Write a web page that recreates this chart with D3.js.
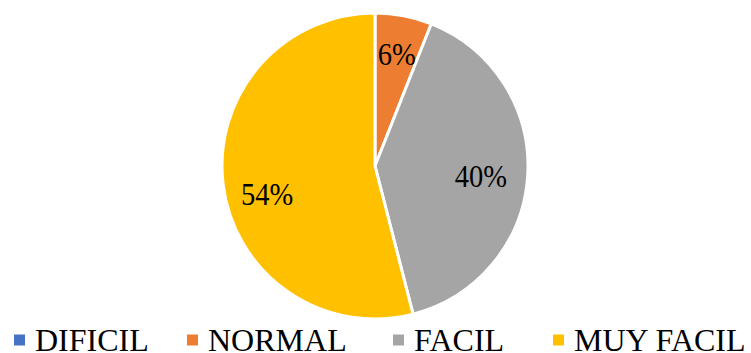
<!DOCTYPE html>
<html>
<head>
<meta charset="utf-8">
<script src="https://cdn.jsdelivr.net/npm/d3@7"></script>
<style>
  html, body { margin: 0; padding: 0; background: #fff; }
  svg { display: block; }
</style>
</head>
<body>
<svg id="chart" width="751" height="353"></svg>
<script>
const categories = ["DIFICIL", "NORMAL", "FACIL", "MUY FACIL"];
const values = [0, 6, 40, 54];
const colors = ["#4472C4", "#ED7D31", "#A5A5A5", "#FFC000"];

const svg = d3.select("#chart");
const cx = 375, cy = 166, r = 153;
const font = "'Liberation Serif', 'Times New Roman', serif";

const data = categories.map((c, i) => ({ name: c, value: values[i], color: colors[i] }));

const pie = d3.pie().value(d => d.value).sort(null);
const arc = d3.arc().innerRadius(0).outerRadius(r);
const labelArc = d3.arc().innerRadius(r * 0.72).outerRadius(r * 0.72);

// best-fit style nudges for the data labels, per category
const labelNudge = { "NORMAL": [1, -4], "FACIL": [-4, 3], "MUY FACIL": [1.5, 14] };

const g = svg.append("g").attr("transform", `translate(${cx},${cy})`);
const arcs = pie(data);

g.selectAll("path")
  .data(arcs)
  .join("path")
  .attr("d", arc)
  .attr("fill", d => d.data.color)
  .attr("stroke", "#fff")
  .attr("stroke-width", 3)
  .attr("stroke-linejoin", "round");

g.selectAll("text")
  .data(arcs.filter(d => d.data.value > 0))
  .join("text")
  .attr("transform", d => {
    const [x, y] = labelArc.centroid(d);
    const [nx, ny] = labelNudge[d.data.name] || [0, 0];
    return `translate(${x + nx},${y + ny}) scale(0.92,1)`;
  })
  .attr("text-anchor", "middle")
  .attr("dy", "0.35em")
  .attr("font-family", font)
  .attr("font-size", 31)
  .attr("fill", "#000")
  .text(d => d.data.value + "%");

// Legend along the bottom
const legendX = [14, 187, 393, 553];
const legend = svg.append("g");
const items = legend.selectAll("g")
  .data(data)
  .join("g")
  .attr("transform", (d, i) => `translate(${legendX[i]},340)`);

items.append("rect")
  .attr("x", 0).attr("y", -5.5)
  .attr("width", 11).attr("height", 11)
  .attr("fill", d => d.color);

items.append("text")
  .attr("x", 21)
  .attr("y", 10.5)
  .attr("font-family", font)
  .attr("font-size", 32)
  .attr("fill", "#000")
  .text(d => d.name);
</script>
</body>
</html>
